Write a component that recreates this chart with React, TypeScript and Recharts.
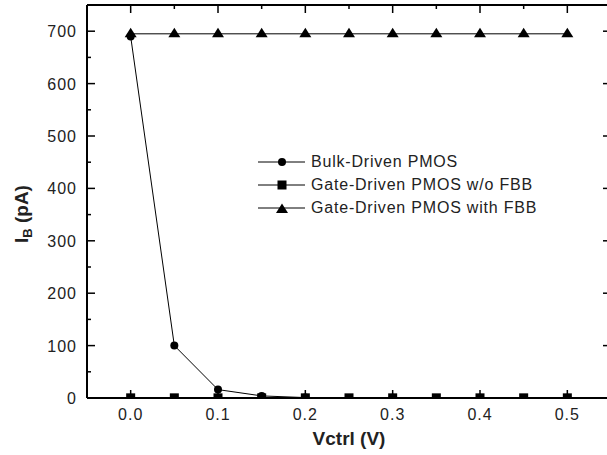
import { LineChart, Line, XAxis, YAxis, Legend } from "recharts"

// data
const vctrl = [0, 0.05, 0.1, 0.15, 0.2, 0.25, 0.3, 0.35, 0.4, 0.45, 0.5]
const bulkDriven = [690, 100, 16, 4, 0.8, null, 0.5, null, 0.5, null, 0.5]
const gateWithoutFbb = [0.3, 0.3, 0.3, 0.3, 0.3, 0.3, 0.3, 0.3, 0.3, 0.3, 0.3]
const gateWithFbb = [695, 695, 695, 695, 695, 695, 695, 695, 695, 695, 695]

const seriesNames = [
  "Bulk-Driven PMOS",
  "Gate-Driven PMOS w/o FBB",
  "Gate-Driven PMOS with FBB",
]

const xTicks = [0, 0.05, 0.1, 0.15, 0.2, 0.25, 0.3, 0.35, 0.4, 0.45, 0.5]
const yTicks = [0, 50, 100, 150, 200, 250, 300, 350, 400, 450, 500, 550, 600, 650, 700]

const data = vctrl.map((v, i) => ({
  v,
  bulk: bulkDriven[i],
  gateNo: gateWithoutFbb[i],
  gateFbb: gateWithFbb[i],
}))

// layout
const W = 620
const H = 455
const margin = { top: 4, right: 8, bottom: 0, left: 0 }
const leftAxisW = 87
const rightAxisW = 1
const topAxisH = 1
const bottomAxisH = 57
const plot = {
  x: margin.left + leftAxisW,
  y: margin.top + topAxisH,
  w: W - margin.left - margin.right - leftAxisW - rightAxisW,
  h: H - margin.top - margin.bottom - topAxisH - bottomAxisH,
}

const font = "'Liberation Sans', Arial, sans-serif"

const isMajorX = (v: number) => Math.abs(v * 10 - Math.round(v * 10)) < 1e-6
const isMajorY = (v: number) => v % 100 === 0

function Marker({ kind, cx, cy }: { kind: string; cx: number; cy: number }) {
  if (kind === "circle") return <circle cx={cx} cy={cy} r={4} fill="#000" />
  if (kind === "square")
    return <rect x={cx - 4.5} y={cy - 4.5} width={9} height={9} fill="#000" />
  return (
    <polygon
      points={`${cx},${cy - 6} ${cx + 6},${cy + 3.5} ${cx - 6},${cy + 3.5}`}
      fill="#000"
    />
  )
}

function dotFor(kind: string) {
  return (p: any) => {
    if (p.cx == null || p.cy == null || p.value == null)
      return <g key={`${kind}-${p.index}`} />
    return (
      <g key={`${kind}-${p.index}`} clipPath="url(#plotClip)">
        <Marker kind={kind} cx={p.cx} cy={p.cy} />
      </g>
    )
  }
}

function XTick(props: any) {
  const { x, y, payload, side } = props
  const major = isMajorX(payload.value)
  const len = major ? 8 : 4
  const dir = side === "top" ? 1 : -1
  return (
    <g>
      <line x1={x} y1={y} x2={x} y2={y + dir * len} stroke="#000" strokeWidth={1.5} />
      {side === "bottom" && major && (
        <text
          x={x}
          y={y + 22}
          textAnchor="middle"
          fontFamily={font}
          fontSize={16}
          letterSpacing={1}
          fill="#222"
        >
          {payload.value.toFixed(1)}
        </text>
      )}
    </g>
  )
}

function YTick(props: any) {
  const { x, y, payload, side } = props
  const major = isMajorY(payload.value)
  const len = major ? 8 : 4
  const dir = side === "left" ? 1 : -1
  return (
    <g>
      <line x1={x} y1={y} x2={x + dir * len} y2={y} stroke="#000" strokeWidth={1.5} />
      {side === "left" && major && (
        <text
          x={x - 10}
          y={y + 6}
          textAnchor="end"
          fontFamily={font}
          fontSize={16}
          letterSpacing={1}
          fill="#222"
        >
          {payload.value}
        </text>
      )}
    </g>
  )
}

function XLabel(props: any) {
  const vb = props.viewBox
  return (
    <text
      x={vb.x + vb.width / 2}
      y={vb.y + 47}
      textAnchor="middle"
      fontFamily={font}
      fontSize={19}
      fontWeight="bold"
      fill="#222"
    >
      Vctrl (V)
    </text>
  )
}

function YLabel(props: any) {
  const vb = props.viewBox
  const x = vb.x + 28
  const y = vb.y + 238
  return (
    <text
      x={x}
      y={y}
      transform={`rotate(-90, ${x}, ${y})`}
      fontFamily={font}
      fontSize={19}
      fontWeight="bold"
      fill="#222"
    >
      I
      <tspan fontSize={13} dy={4}>B</tspan>
      <tspan dy={-4}> (pA)</tspan>
    </text>
  )
}

function LegendBox(props: any) {
  const items = props.payload || []
  return (
    <div style={{ fontFamily: font, fontSize: 16, letterSpacing: 0.8, color: "#222" }}>
      {items.map((it: any) => (
        <div
          key={it.value}
          style={{ display: "flex", alignItems: "center", height: 23 }}
        >
          <svg width={52} height={14} style={{ marginRight: 1 }}>
            <line x1={0} y1={7} x2={47} y2={7} stroke="#000" strokeWidth={1} />
            <Marker kind={it.type} cx={24} cy={it.type === "triangle" ? 8.5 : 7} />
          </svg>
          <span>{it.value}</span>
        </div>
      ))}
    </div>
  )
}

export default function App() {
  return (
    <div
      style={{
        position: "fixed",
        left: 0,
        top: 0,
        width: 607,
        height: 455,
        overflow: "hidden",
        background: "#fff",
      }}
    >
      <LineChart width={W} height={H} data={data} margin={margin}>
        <defs>
          <clipPath id="plotClip">
            <rect x={plot.x} y={plot.y} width={plot.w} height={plot.h} />
          </clipPath>
        </defs>

        <XAxis
          dataKey="v"
          type="number"
          domain={[-0.05, 0.55]}
          allowDataOverflow
          ticks={xTicks}
          interval={0}
          height={bottomAxisH}
          tickSize={0}
          tickMargin={0}
          tickLine={false}
          axisLine={{ stroke: "#000", strokeWidth: 2 }}
          tick={(p: any) => <XTick {...p} side="bottom" />}
          label={{ content: XLabel }}
        />
        <XAxis
          xAxisId="top"
          dataKey="v"
          orientation="top"
          type="number"
          domain={[-0.05, 0.55]}
          allowDataOverflow
          ticks={xTicks}
          interval={0}
          height={topAxisH}
          tickSize={0}
          tickMargin={0}
          tickLine={false}
          axisLine={{ stroke: "#000", strokeWidth: 2 }}
          tick={(p: any) => <XTick {...p} side="top" />}
        />
        <YAxis
          type="number"
          domain={[0, 750]}
          allowDataOverflow
          ticks={yTicks}
          interval={0}
          width={leftAxisW}
          tickSize={0}
          tickMargin={0}
          tickLine={false}
          axisLine={{ stroke: "#000", strokeWidth: 2 }}
          tick={(p: any) => <YTick {...p} side="left" />}
          label={{ content: YLabel }}
        />
        <YAxis
          yAxisId="right"
          orientation="right"
          type="number"
          domain={[0, 750]}
          allowDataOverflow
          ticks={yTicks}
          interval={0}
          width={rightAxisW}
          tickSize={0}
          tickMargin={0}
          tickLine={false}
          axisLine={{ stroke: "#000", strokeWidth: 2 }}
          tick={(p: any) => <YTick {...p} side="right" />}
        />

        <Legend
          layout="vertical"
          verticalAlign="middle"
          align="center"
          content={LegendBox}
          wrapperStyle={{ position: "absolute", left: 258, top: 150, width: "auto", height: "auto" }}
        />

        <Line
          dataKey="bulk"
          name={seriesNames[0]}
          legendType="circle"
          stroke="#000"
          strokeWidth={1}
          connectNulls
          dot={dotFor("circle")}
          isAnimationActive={false}
        />
        <Line
          dataKey="gateNo"
          name={seriesNames[1]}
          legendType="square"
          stroke="#000"
          strokeWidth={1}
          dot={dotFor("square")}
          isAnimationActive={false}
        />
        <Line
          dataKey="gateFbb"
          name={seriesNames[2]}
          legendType="triangle"
          stroke="#000"
          strokeWidth={1}
          dot={dotFor("triangle")}
          isAnimationActive={false}
        />
      </LineChart>
    </div>
  )
}
